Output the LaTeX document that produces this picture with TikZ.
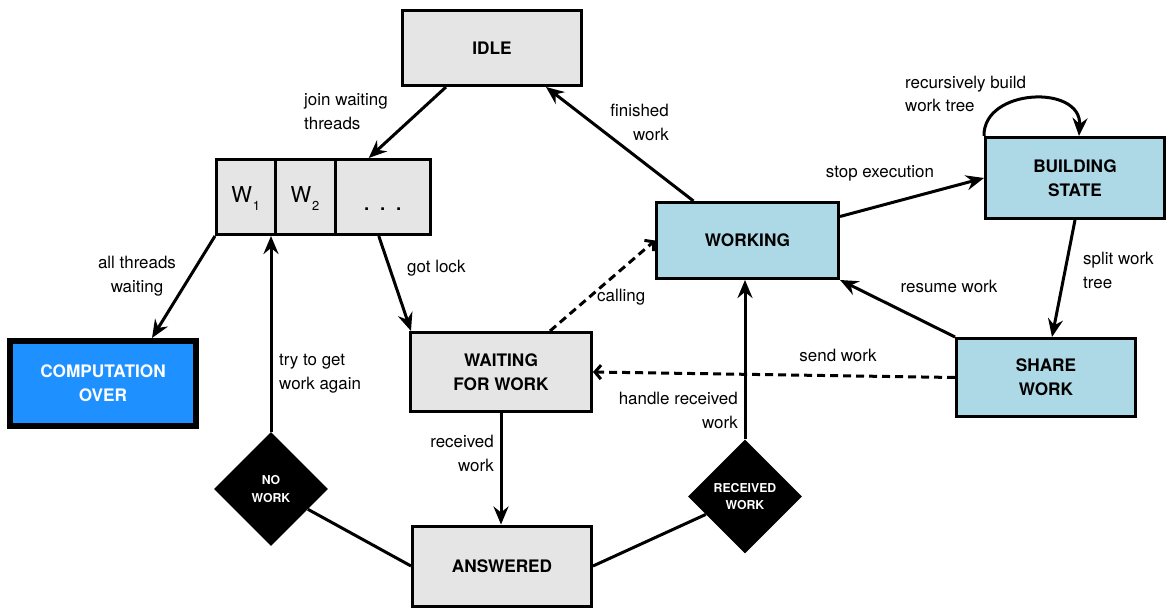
\documentclass[tikz,border=0pt]{standalone}
\usepackage{fontspec}
\setmainfont{TeX Gyre Heros}
\usetikzlibrary{arrows.meta,shapes.geometric}

\definecolor{stategray}{HTML}{E5E5E5}
\definecolor{stateblue}{HTML}{ADD8E6}
\definecolor{doneblue}{HTML}{1E90FF}

\tikzset{
  state/.style={draw=black, line width=3bp, fill=stategray, align=center,
    inner sep=0pt, font=\fontsize{17.3}{24}\selectfont\bfseries},
  busy/.style={state, fill=stateblue},
  wcell/.style={draw=black, line width=3bp, fill=stategray, inner sep=0pt,
    minimum height=75bp, text height=12bp, text depth=0bp,
    font=\fontsize{22}{22}\selectfont},
  decision/.style={diamond, aspect=1, fill=black, text=white, inner sep=0pt,
    minimum width=114bp, minimum height=114bp, align=center,
    font=\fontsize{12.3}{18}\selectfont\bfseries},
  edgelabel/.style={inner sep=0pt, font=\fontsize{17}{24}\selectfont},
  flow/.style={line width=3bp, -{Stealth[length=18bp,width=15bp,inset=6bp]}},
  call/.style={line width=3bp, dash pattern=on 8bp off 5bp,
    -{Straight Barb[length=6bp,width=14bp]}},
  link/.style={line width=3bp},
}

\begin{document}
\begin{tikzpicture}[x=1bp,y=-1bp]
  \useasboundingbox[fill=white] (0,0) rectangle (1167,608);

  % states
  \node[state, minimum width=179bp, minimum height=75bp] (idle) at (492,48) {IDLE};
  \node[state, fill=doneblue, text=white, line width=6bp,
        minimum width=185bp, minimum height=85bp] (comp) at (103,383.5) {COMPUTATION\\OVER};
  \node[state, minimum width=181bp, minimum height=79bp] (wait) at (501,372) {WAITING\\FOR WORK};
  \node[state, minimum width=179bp, minimum height=80bp] (ans) at (502,566) {ANSWERED};
  \node[busy, minimum width=182bp, minimum height=76bp] (work) at (747.5,240.5) {WORKING};
  \node[busy, minimum width=179bp, minimum height=81bp] (build) at (1075,178) {BUILDING\\STATE};
  \node[busy, minimum width=179bp, minimum height=78bp] (share) at (1046,377.5) {SHARE\\WORK};

  % waiting threads
  \node[wcell, minimum width=58.5bp] (w1) at (245.75,197)
    {W\hspace{1bp}\raisebox{-8bp}{\fontsize{13}{13}\selectfont 1}};
  \node[wcell, minimum width=60bp] (w2) at (305,197)
    {W\hspace{1bp}\raisebox{-8bp}{\fontsize{13}{13}\selectfont 2}};
  \node[wcell, minimum width=95.5bp, text height=28bp] (wd) at (382.75,197)
    {\fontsize{26}{26}\selectfont .\hspace{8.8bp}.\hspace{8.8bp}.\hspace{9bp}};

  % decisions
  \node[decision] (nowork) at (271,489) {NO\\WORK};
  \node[decision] (recv) at (745,496.5) {RECEIVED\\WORK};

  % transitions
  \draw[flow] ([xshift=-46bp]idle.south) -- ([xshift=-14bp]wd.north);
  \draw[flow] ([xshift=-54bp]work.north) -- ([xshift=54bp]idle.south);
  \draw[flow] (w1.south west) -- ([xshift=49bp]comp.north);
  \draw[flow] ([xshift=-4bp]wd.south) -- ([xshift=-90bp]wait.north);
  \draw[flow] (nowork.north) -- (nowork.north |- w1.south);
  \draw[link] (nowork) -- (ans.west);
  \draw[link] (ans.east) -- (recv);
  \draw[flow] (recv.north) -- (recv.north |- work.south);
  \draw[flow] (wait.south) -- (wait.south |- ans.north);
  \draw[call] ([xshift=49bp]wait.north) -- (work.west);
  \draw[call] (share.west) -- (wait.east);
  \draw[flow] ([yshift=24bp]work.east) -- (build.west);
  \draw[flow] (build.south) -- ([xshift=6bp]share.north);
  \draw[flow] (share.north west) -- (work.south east);
  \draw[flow] (build.north west) .. controls (983,88) and (1082,84) .. ([xshift=4bp]build.north);

  % transition labels
  \node[edgelabel, align=left, anchor=west] (lJoin) at (304,112) {join waiting\\threads};
  \node[edgelabel, align=right, anchor=east] (lFin) at (669,122) {finished\\work};
  \node[edgelabel, align=center] (lAll) at (137,276) {all threads\\waiting};
  \node[edgelabel, anchor=west] (lLock) at (407,268) {got lock};
  \node[edgelabel, align=left, anchor=west] (lTry) at (279,374) {try to get\\work again};
  \node[edgelabel, align=right, anchor=east] (lRecv) at (494,453) {received\\work};
  \node[edgelabel, align=right, anchor=east] (lHandle) at (738,410) {handle received\\work};
  \node[edgelabel, anchor=west] (lCall) at (597,297) {calling};
  \node[edgelabel] (lSend) at (838,355) {send work};
  \node[edgelabel] (lStop) at (880,173) {stop execution};
  \node[edgelabel] (lResume) at (949,286) {resume work};
  \node[edgelabel, align=left, anchor=west] (lSplit) at (1083,270) {split work\\tree};
  \node[edgelabel, align=left, anchor=west] (lRec) at (905,94) {recursively build\\work tree};
\end{tikzpicture}
\end{document}
